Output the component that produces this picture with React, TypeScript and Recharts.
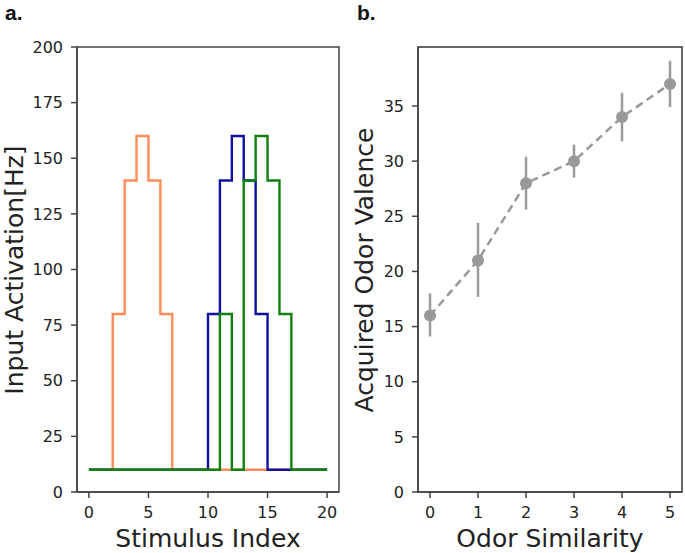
import { LineChart, Line, XAxis, YAxis, ErrorBar, ReferenceArea } from 'recharts'

// panel a: input activation per stimulus index (step plots)
const stimIndex = [0, 1, 2, 3, 4, 5, 6, 7, 8, 9, 10, 11, 12, 13, 14, 15, 16, 17, 18, 19, 20]
const orangeInput = [10, 10, 80, 140, 160, 140, 80, 10, 10, 10, 10, 10, 10, 10, 10, 10, 10, 10, 10, 10, 10]
const blueInput = [10, 10, 10, 10, 10, 10, 10, 10, 10, 10, 80, 140, 160, 140, 80, 10, 10, 10, 10, 10, 10]
const greenInput = [10, 10, 10, 10, 10, 10, 10, 10, 10, 10, 10, 80, 10, 140, 160, 140, 80, 10, 10, 10, 10]
const stimTicks = [0, 5, 10, 15, 20]
const inputTicks = [0, 25, 50, 75, 100, 125, 150, 175, 200]

// panel b: acquired valence vs odor similarity
const similarity = [0, 1, 2, 3, 4, 5]
const valence = [16, 21, 28, 30, 34, 37]
const valenceLow = [14.1, 17.7, 25.6, 28.5, 31.8, 34.9]
const valenceHigh = [18, 24.4, 30.4, 31.5, 36.2, 39.1]
const valenceTicks = [0, 5, 10, 15, 20, 25, 30, 35]

const stepData = stimIndex.map((x, i) => ({
  x, orange: orangeInput[i], blue: blueInput[i], green: greenInput[i],
}))

const valenceData = similarity.map((x, i) => ({
  x,
  v: valence[i],
  err: [valence[i] - valenceLow[i], valenceHigh[i] - valence[i]],
}))

const FONT = '"DejaVu Sans", sans-serif'
const tick = { fontSize: 16, fill: '#222', fontFamily: FONT }
const frame = { stroke: '#444', strokeWidth: 1.5 }

export default function App() {
  return (
    <div style={{ position: 'absolute', left: 0, top: 0, width: 685, height: 553, background: '#fff' }}>
      <div style={{ position: 'absolute', left: 0, top: 0 }}>
        <LineChart width={350} height={553} data={stepData} margin={{ top: 47, right: 11, bottom: 31, left: 32 }}>
          <XAxis dataKey="x" type="number" domain={[-1, 21]} ticks={stimTicks} tick={tick}
            tickSize={6} tickMargin={9} height={30} axisLine={frame} tickLine={frame} />
          <YAxis type="number" domain={[0, 200]} ticks={inputTicks} tick={tick} width={45}
            tickSize={6} tickMargin={8} axisLine={frame} tickLine={frame} />
          <ReferenceArea x1={-1} x2={21} y1={0} y2={200} fill="none" stroke="#444" strokeWidth={1.5} ifOverflow="visible" />
          <Line type="stepAfter" dataKey="orange" stroke="#FF8C5A" strokeWidth={2.4} dot={false} isAnimationActive={false} />
          <Line type="stepAfter" dataKey="blue" stroke="#1010A0" strokeWidth={2.4} dot={false} isAnimationActive={false} />
          <Line type="stepAfter" dataKey="green" stroke="#108010" strokeWidth={2.4} dot={false} isAnimationActive={false} />
        </LineChart>
      </div>
      <div style={{ position: 'absolute', left: 340, top: 0 }}>
        <LineChart width={345} height={553} data={valenceData} margin={{ top: 47, right: 3, bottom: 31, left: 38 }}>
          <XAxis dataKey="x" type="number" domain={[-0.25, 5.25]} ticks={similarity} tick={tick}
            tickSize={6} tickMargin={9} height={30} axisLine={frame} tickLine={frame} />
          <YAxis type="number" domain={[0, 40.35]} ticks={valenceTicks} tick={tick} width={40}
            tickSize={6} tickMargin={8} axisLine={frame} tickLine={frame} />
          <ReferenceArea x1={-0.25} x2={5.25} y1={0} y2={40.35} fill="none" stroke="#333" strokeWidth={1.5} ifOverflow="visible" />
          <Line type="linear" dataKey="v" stroke="#999" strokeWidth={2.5} strokeDasharray="8 5"
            dot={{ r: 6, fill: '#999', stroke: '#999', strokeWidth: 0 }} isAnimationActive={false}>
            <ErrorBar dataKey="err" direction="y" width={0} stroke="#999" strokeWidth={2.5} />
          </Line>
        </LineChart>
      </div>
      <svg width={685} height={553} style={{ position: 'absolute', left: 0, top: 0, pointerEvents: 'none' }}>
        <text x={5} y={20} fontSize={21} fontWeight="bold" fontFamily='"Liberation Sans", Arial, sans-serif' fill="#111">a.</text>
        <text x={357} y={20} fontSize={21} fontWeight="bold" fontFamily='"Liberation Sans", Arial, sans-serif' fill="#111">b.</text>
        <text x={208} y={547} fontSize={25} fontFamily={FONT} textAnchor="middle" fill="#222">Stimulus Index</text>
        <text x={550} y={547} fontSize={25} fontFamily={FONT} textAnchor="middle" fill="#222">Odor Similarity</text>
        <text x={23} y={270} fontSize={25} fontFamily={FONT} textAnchor="middle" fill="#222"
          transform="rotate(-90 23 270)">Input Activation[Hz]</text>
        <text x={373} y={270} fontSize={25} fontFamily={FONT} textAnchor="middle" fill="#222"
          transform="rotate(-90 373 270)">Acquired Odor Valence</text>
      </svg>
    </div>
  )
}
